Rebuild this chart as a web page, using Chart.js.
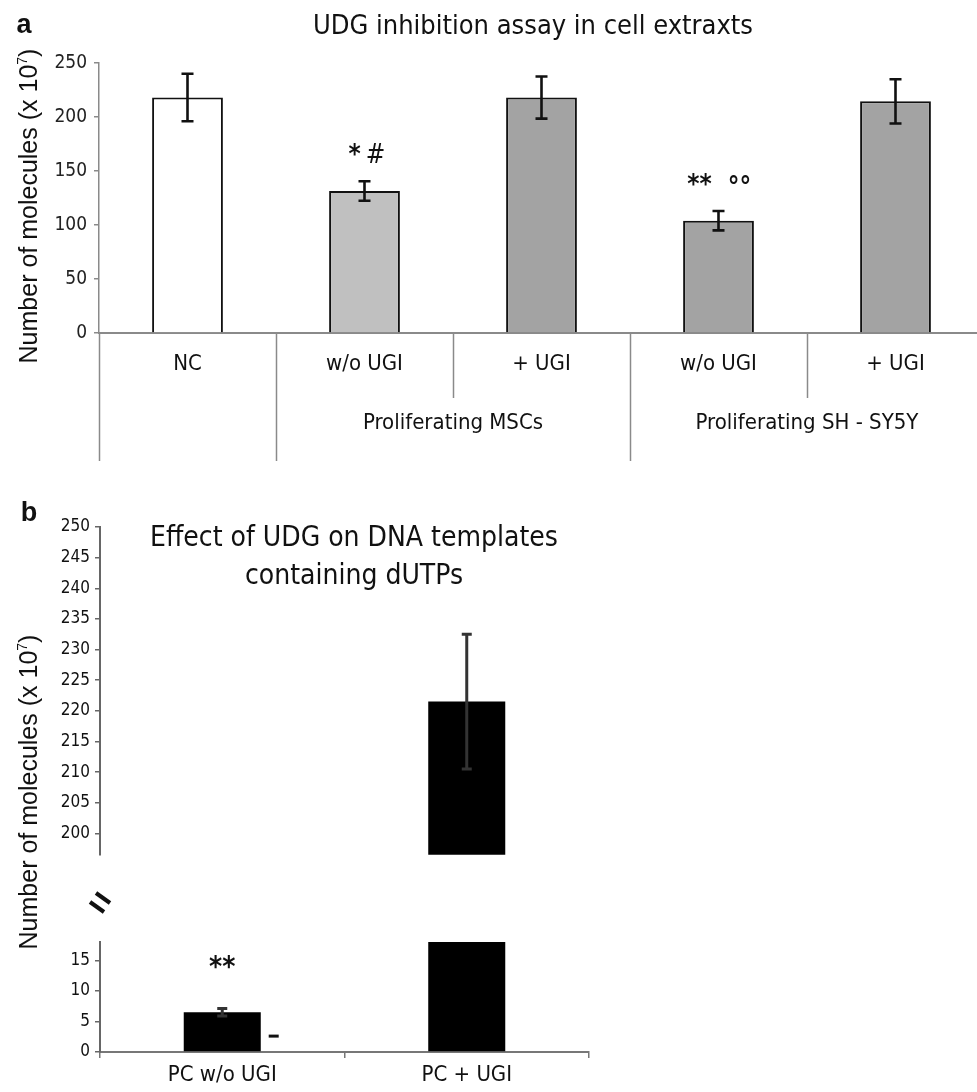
<!DOCTYPE html>
<html>
<head>
<meta charset="utf-8">
<script src="https://cdn.jsdelivr.net/npm/chart.js@4.4.1/dist/chart.umd.min.js"></script>
<style>
    body { margin: 0; background: #fff; }
    #fig { position: relative; width: 977px; height: 1092px; overflow: hidden; }
    canvas { position: absolute; left: 0; }
    .txt {
        position: absolute;
        white-space: nowrap;
        color: #111;
        font-family: "Liberation Sans Narrow", "Arial Narrow", "DejaVu Sans Condensed", sans-serif;
        transform: translate(-50%, -50%);
    }
    .ylab { transform: translate(-50%, -50%) rotate(-90deg); font-family: "Liberation Sans", Arial, sans-serif; font-size: 25px; }
    .ylab sup { font-size: 14px; vertical-align: 10px; }
</style>
</head>
<body>
<div id="fig">
    <canvas id="chart-a" width="990" height="480" style="top:0"></canvas>
    <canvas id="chart-b-top" width="600" height="390" style="top:480px"></canvas>
    <canvas id="chart-b-low" width="600" height="222" style="top:870px"></canvas>

    <div class="txt" style="left:24px;top:24px;font:bold 27px 'Liberation Sans', Arial, sans-serif">a</div>
    <div class="txt" style="left:533px;top:24px;font-size:27px">UDG inhibition assay in cell extraxts</div>
    <div class="txt ylab" style="left:28px;top:206px">Number of molecules (x 10<sup>7</sup>)</div>

    <div class="txt" style="left:29px;top:512px;font:bold 27px 'Liberation Sans', Arial, sans-serif">b</div>
    <div class="txt" style="left:354px;top:536px;font-size:28px">Effect of UDG on DNA templates</div>
    <div class="txt" style="left:354px;top:574px;font-size:28px">containing dUTPs</div>
    <div class="txt ylab" style="left:28px;top:792px">Number of molecules (x 10<sup>7</sup>)</div>
</div>

<script>
const NARROW = '"Liberation Sans Narrow", "Arial Narrow", "DejaVu Sans Condensed", sans-serif';

// ---- panel a data
const categoriesA = ["NC", "w/o UGI", "+ UGI", "w/o UGI", "+ UGI"];
const groupsA = ["", "Proliferating MSCs", "Proliferating MSCs", "Proliferating SH - SY5Y", "Proliferating SH - SY5Y"];
const valuesA = [218, 131.5, 218, 104, 214.5];
const errorsA = [22, 9, 19.5, 9, 20.5];
const colorsA = ["#ffffff", "#c0c0c0", "#a3a3a3", "#a3a3a3", "#a3a3a3"];
const ticksA = [0, 50, 100, 150, 200, 250];
// significance marks: [category index, text, value height, x shift]
const marksA = [[1, "*", 164, -10], [1, "#", 164, 11], [3, "**", 136, -19], [3, "°°", 134, 21]];

// ---- panel b data
const categoriesB = ["PC w/o UGI", "PC + UGI"];
const valuesB = [6.5, 221.5];
const errorsB = [0.6, 11];
const ticksBTop = [200, 205, 210, 215, 220, 225, 230, 235, 240, 245, 250];
const ticksBLow = [0, 5, 10, 15];
const marksB = [[0, "**", 13.6]];

function drawErrorBars(chart, values, errors, color, width, cap) {
    const { ctx, chartArea, scales: { x, y } } = chart;
    ctx.save();
    ctx.beginPath();
    ctx.rect(chartArea.left, chartArea.top - 4, chartArea.right - chartArea.left, chartArea.bottom - chartArea.top + 4);
    ctx.clip();
    ctx.strokeStyle = color;
    ctx.lineWidth = width;
    values.forEach((v, i) => {
        const px = x.getPixelForValue(i);
        const hi = y.getPixelForValue(v + errors[i]);
        const lo = y.getPixelForValue(v - errors[i]);
        ctx.beginPath();
        ctx.moveTo(px, hi); ctx.lineTo(px, lo);
        ctx.moveTo(px - cap, hi); ctx.lineTo(px + cap, hi);
        ctx.moveTo(px - cap, lo); ctx.lineTo(px + cap, lo);
        ctx.stroke();
    });
    ctx.restore();
}

const panelAExtras = {
    id: "panelAExtras",
    afterDatasetsDraw(chart) {
        const { ctx, chartArea, scales: { x, y } } = chart;
        drawErrorBars(chart, valuesA, errorsA, "#111", 2.6, 6);

        const half = (x.getPixelForValue(1) - x.getPixelForValue(0)) / 2;
        ctx.save();
        // category separators below the axis
        ctx.strokeStyle = "#8a8a8a";
        ctx.lineWidth = 1.5;
        for (let i = 0; i <= categoriesA.length; i++) {
            const bx = Math.round(x.getPixelForValue(i) - half) + 0.5;
            const long = i === 0 || i === categoriesA.length || groupsA[i] !== groupsA[i - 1];
            ctx.beginPath();
            ctx.moveTo(bx, chartArea.bottom);
            ctx.lineTo(bx, chartArea.bottom + (long ? 128 : 65));
            ctx.stroke();
        }
        ctx.fillStyle = "#111";
        ctx.textAlign = "center";
        ctx.textBaseline = "middle";
        ctx.font = "22px " + NARROW;
        categoriesA.forEach((c, i) => ctx.fillText(c, x.getPixelForValue(i), chartArea.bottom + 31));
        // group labels
        const done = {};
        groupsA.forEach((g, i) => {
            if (!g || done[g]) return;
            done[g] = true;
            const last = groupsA.lastIndexOf(g);
            const cx = (x.getPixelForValue(i) + x.getPixelForValue(last)) / 2;
            ctx.fillText(g, cx, chartArea.bottom + 90);
        });
        // significance marks
        marksA.forEach(([i, t, v, dx]) => {
            ctx.font = (t === "#" ? "26px " : "bold 26px ") + NARROW;
            ctx.fillText(t, x.getPixelForValue(i) + dx, y.getPixelForValue(v));
        });
        ctx.restore();
    },
};

const panelBExtras = {
    id: "panelBExtras",
    afterDatasetsDraw(chart) {
        const { ctx, scales: { x, y } } = chart;
        drawErrorBars(chart, valuesB, errorsB, "#333", 3, 5);
        if (chart.canvas.id !== "chart-b-low") return;
        ctx.save();
        ctx.fillStyle = "#111";
        ctx.textAlign = "center";
        ctx.textBaseline = "middle";
        ctx.font = "bold 28px " + NARROW;
        marksB.forEach(([i, t, v]) => ctx.fillText(t, x.getPixelForValue(i), y.getPixelForValue(v)));
        // stray dash to the right of the first bar
        const half = (x.getPixelForValue(1) - x.getPixelForValue(0)) / 2;
        ctx.fillRect(x.getPixelForValue(0) + half * 0.38, y.getPixelForValue(2.6) - 1.5, 10, 3);
        ctx.restore();

        // axis break mark
        ctx.save();
        ctx.strokeStyle = "#111";
        ctx.lineWidth = 4;
        const bx = chart.chartArea.left, by = chart.chartArea.top - 38;
        [[3, -6], [-3, 3]].forEach(([ox, oy]) => {
            ctx.beginPath();
            ctx.moveTo(bx + ox - 7, by + oy - 5);
            ctx.lineTo(bx + ox + 7, by + oy + 5);
            ctx.stroke();
        });
        ctx.restore();
    },
};

function setTicks(list) {
    return (scale) => {
        scale.ticks = list.map((v) => ({ value: v }));
    };
}

new Chart(document.getElementById("chart-a"), {
    type: "bar",
    data: {
        labels: categoriesA,
        datasets: [{
            data: valuesA,
            backgroundColor: colorsA,
            borderColor: "#111",
            borderWidth: 2,
            barPercentage: 0.4,
            categoryPercentage: 1,
        }],
    },
    options: {
        responsive: false,
        devicePixelRatio: 1,
        animation: false,
        layout: { padding: { left: 0, top: 63, right: 6, bottom: 0 } },
        plugins: { legend: { display: false }, tooltip: { enabled: false } },
        scales: {
            x: {
                ticks: { display: false },
                grid: { display: false },
                border: { display: true, color: "#8a8a8a", width: 2 },
                afterFit: (s) => { s.height = 147; },
            },
            y: {
                min: 0,
                max: 250,
                ticks: { color: "#222", font: { size: 19, family: NARROW }, padding: 7 },
                afterBuildTicks: setTicks(ticksA),
                grid: { drawOnChartArea: false, drawTicks: true, tickLength: 5, color: "#8a8a8a", lineWidth: 1.5 },
                border: { display: true, color: "#8a8a8a", width: 1.5 },
                afterFit: (s) => { s.width = 99; },
            },
        },
    },
    plugins: [panelAExtras],
});

function panelBConfig(isTop) {
    return {
        type: "bar",
        data: {
            labels: categoriesB,
            datasets: [{
                data: valuesB,
                backgroundColor: "#000",
                borderWidth: 0,
                barPercentage: 0.315,
                categoryPercentage: 1,
            }],
        },
        options: {
            responsive: false,
            devicePixelRatio: 1,
            animation: false,
            layout: {
                padding: isTop
                    ? { left: 0, top: 47, right: 11, bottom: 8 }
                    : { left: 0, top: 72, right: 11, bottom: 0 },
            },
            plugins: { legend: { display: false }, tooltip: { enabled: false } },
            scales: {
                x: {
                    display: !isTop,
                    offset: true,
                    ticks: { color: "#111", font: { size: 22, family: NARROW }, padding: 4, maxRotation: 0 },
                    grid: { offset: true, drawOnChartArea: false, drawTicks: true, tickLength: 6, color: "#777", lineWidth: 1.5 },
                    border: { display: true, color: "#777", width: 2 },
                    afterFit: isTop ? undefined : (s) => { s.height = 40; },
                },
                y: {
                    min: isTop ? 196.5 : 0,
                    max: isTop ? 250 : 18,
                    ticks: { color: "#111", font: { size: 17, family: NARROW }, padding: 5 },
                    afterBuildTicks: setTicks(isTop ? ticksBTop : ticksBLow),
                    grid: { drawOnChartArea: false, drawTicks: true, tickLength: 5, color: "#666", lineWidth: 1.5 },
                    border: { display: true, color: "#666", width: 2 },
                    afterFit: (s) => { s.width = 100; },
                },
            },
        },
        plugins: [panelBExtras],
    };
}

new Chart(document.getElementById("chart-b-top"), panelBConfig(true));
new Chart(document.getElementById("chart-b-low"), panelBConfig(false));
</script>
</body>
</html>
